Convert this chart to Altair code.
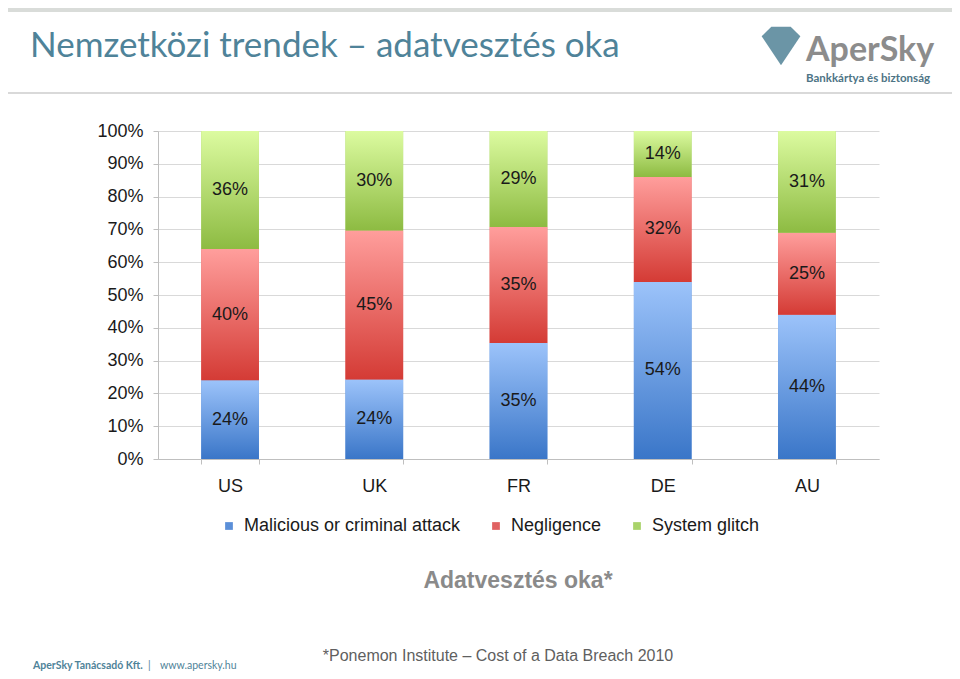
import altair as alt
import pandas as pd

# ---- data ----
countries = ["US", "UK", "FR", "DE", "AU"]
causes = ["Malicious or criminal attack", "Negligence", "System glitch"]
malicious = [24, 24, 35, 54, 44]
negligence = [40, 45, 35, 32, 25]
glitch = [36, 30, 29, 14, 31]
y_ticks = [0, 0.1, 0.2, 0.3, 0.4, 0.5, 0.6, 0.7, 0.8, 0.9, 1.0]

title_text = "Nemzetközi trendek – adatvesztés oka"
logo_text = "AperSky"
logo_sub = "Bankkártya és biztonság"
chart_caption = "Adatvesztés oka*"
source_note = "*Ponemon Institute – Cost of a Data Breach 2010"
footer_company = "AperSky Tanácsadó Kft."
footer_sep = "|"
footer_web = "www.apersky.hu"

legend_colors = ["#5b8fd8", "#e06262", "#a9d36a"]
grad_top = ["#9cc3fa", "#ff9e9c", "#dcfba0"]
grad_bottom = ["#3a76c8", "#d43b35", "#8dbb42"]

rows = []
for series_i, (cause, vals) in enumerate(zip(causes, [malicious, negligence, glitch])):
    for c, v in zip(countries, vals):
        rows.append({"country": c, "cause": cause, "value": v, "order": series_i})
df = pd.DataFrame(rows)

FONT = "Liberation Sans"
W, H = 721, 328
PAD_L, PAD_T = 150, 123
TOTAL_W, TOTAL_H = 944, 663

x_axis = alt.Axis(title=None, labelAngle=0, labelFontSize=18, labelFont=FONT,
                  labelColor="#1a1a1a", domainColor="#bfbfbf", tickColor="#bfbfbf",
                  tickSize=5, tickBand="extent", labelPadding=13, grid=False)
y_axis = alt.Axis(title=None, format="%", values=y_ticks, labelOverlap=False,
                  labelFontSize=18, labelFont=FONT, labelColor="#1a1a1a",
                  grid=True, gridColor="#d9d9d9", domainColor="#bfbfbf", tickColor="#bfbfbf",
                  tickSize=5, labelPadding=10)
x_scale = alt.Scale(paddingInner=0.6, paddingOuter=0.3)
y_scale = alt.Scale(domain=[0, 1])


def X():
    return alt.X("country:N", sort=countries, scale=x_scale, axis=x_axis)


def Y(field):
    return alt.Y(field, scale=y_scale, axis=y_axis)


base = alt.Chart(df).transform_stack(
    stack="value", groupby=["country"], as_=["y0", "y1"], offset="normalize",
    sort=[alt.SortField("order", "ascending")]
).transform_calculate(mid="(datum.y0 + datum.y1) / 2", label="datum.value + '%'")

solid = base.mark_bar().encode(
    x=X(), y=Y("y0:Q"), y2="y1:Q",
    color=alt.Color("cause:N", scale=alt.Scale(domain=causes, range=legend_colors),
                    sort=causes,
                    legend=alt.Legend(title=None, orient="none", direction="horizontal",
                                      legendX=62, legendY=386, symbolType="square",
                                      symbolSize=60, symbolStrokeWidth=0,
                                      labelFontSize=18, labelFont=FONT, labelColor="#1a1a1a",
                                      columnPadding=26, labelOffset=6, labelLimit=400))
)

grad_layers = []
for i, cause in enumerate(causes):
    g = alt.Gradient(gradient="linear",
                     stops=[alt.GradientStop(color=grad_top[i], offset=0),
                            alt.GradientStop(color=grad_bottom[i], offset=1)],
                     x1=0, x2=0, y1=0, y2=1)
    grad_layers.append(
        base.transform_filter(alt.datum.cause == cause).mark_bar(color=g).encode(
            x=X(), y=Y("y0:Q"), y2="y1:Q")
    )

labels = base.mark_text(fontSize=18, font=FONT, color="#1a1a1a").encode(
    x=X(), y=Y("mid:Q"), text="label:N")

dummy = alt.Data(values=[{"k": 1}])


def px(page_x):
    return page_x - 8 - PAD_L


def py(page_y):
    return page_y - 8 - PAD_T


def txt(s, x, y, size, color, font=FONT, weight="normal", align="left", baseline="alphabetic"):
    return alt.Chart(dummy).mark_text(text=s, fontSize=size, font=font, fontWeight=weight,
                                      color=color, align=align, baseline=baseline).encode(
        x=alt.value(px(x)), y=alt.value(py(y)))


def rule(x1, x2, y, color, width):
    return alt.Chart(dummy).mark_rule(color=color, strokeWidth=width).encode(
        x=alt.value(px(x1)), x2=alt.value(px(x2)), y=alt.value(py(y)))


deco = [
    rule(8, 952, 10, "#d9dcd9", 4),
    rule(8, 952, 93, "#d9d9d9", 2),
    txt(title_text, 30, 57, 35, "#4f8399", font="Lato"),
    alt.Chart(dummy).mark_point(
        shape="M-1,-0.5 L-0.5,-1 L0.5,-1 L1,-0.5 L0,1 Z", filled=True, color="#6b95a6",
        size=1500, opacity=1).encode(x=alt.value(px(781)), y=alt.value(py(46))),
    txt(logo_text, 806, 61, 34, "#8c8c8c", font="Lato", weight="bold"),
    txt(logo_sub, 806, 82, 11.5, "#4d7485", font="Lato", weight="bold"),
    txt(chart_caption, 518, 588, 23, "#8a8a8a", weight="bold", align="center"),
    txt(source_note, 498, 661, 16, "#5f5f5f", align="center"),
    txt(footer_company, 33, 669, 10.5, "#4f8399", font="Lato", weight="bold"),
    txt(footer_sep, 148, 669, 10.5, "#4f8399", font="Lato"),
    txt(footer_web, 160, 669, 10.5, "#4f8399", font="Lato"),
]

chart = alt.layer(solid, *grad_layers, labels, *deco).properties(
    width=W, height=H,
    autosize=alt.AutoSizeParams(type="none"),
    padding={"left": PAD_L, "top": PAD_T, "right": TOTAL_W - PAD_L - W,
             "bottom": TOTAL_H - PAD_T - H},
    background="white",
).configure_view(strokeWidth=0)

chart.save("out.html", embed_options={"renderer": "svg", "actions": False})
